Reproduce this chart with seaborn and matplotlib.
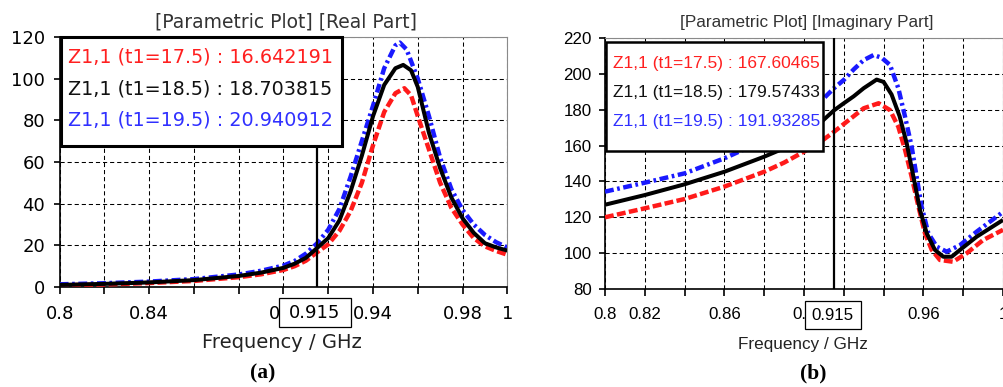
import matplotlib
matplotlib.use("Agg")
import matplotlib.pyplot as plt
import pandas as pd
import seaborn as sns
from matplotlib.patches import Rectangle

# ---------------- data ----------------
marker_freq = 0.915
param_labels = ["Z1,1 (t1=17.5)", "Z1,1 (t1=18.5)", "Z1,1 (t1=19.5)"]
series_colors = ["#ff1a1a", "#000000", "#1a1aff"]
legend_text_colors = ["#ff2020", "#111111", "#3030ff"]

# Real part of Z1,1 (ohm) versus frequency (GHz)
real_freq_t175 = [0.80, 0.82, 0.84, 0.86, 0.88, 0.89, 0.90, 0.905, 0.91, 0.915, 0.92, 0.925,
                  0.93, 0.935, 0.94, 0.945, 0.95, 0.954, 0.957, 0.96, 0.965, 0.97, 0.975,
                  0.98, 0.985, 0.99, 0.995, 1.0]
real_z_t175 = [0.8, 1.2, 1.9, 2.9, 4.7, 6.1, 8.2, 10.0, 12.6, 16.642191, 20.5, 27.0,
               36.5, 50.0, 68.0, 84.0, 93.0, 95.4, 92.0, 82.0, 66.0, 50.0, 38.0,
               30.0, 23.5, 19.5, 17.3, 15.5]

real_freq_t185 = [0.80, 0.82, 0.84, 0.86, 0.88, 0.89, 0.90, 0.905, 0.91, 0.915, 0.92, 0.925,
                  0.93, 0.935, 0.94, 0.945, 0.95, 0.9535, 0.957, 0.96, 0.965, 0.97, 0.975,
                  0.98, 0.985, 0.99, 0.995, 1.0]
real_z_t185 = [1.0, 1.5, 2.2, 3.3, 5.3, 6.9, 9.2, 11.2, 14.0, 18.703815, 23.5, 32.0,
               46.0, 63.0, 82.0, 97.0, 105.0, 106.6, 104.0, 96.0, 74.0, 57.0, 43.0,
               33.0, 26.0, 21.0, 19.0, 17.5]

real_freq_t195 = [0.80, 0.82, 0.84, 0.86, 0.88, 0.89, 0.90, 0.905, 0.91, 0.915, 0.92, 0.925,
                  0.93, 0.935, 0.94, 0.945, 0.95, 0.952, 0.955, 0.96, 0.965, 0.97, 0.975,
                  0.98, 0.985, 0.99, 0.995, 1.0]
real_z_t195 = [1.3, 1.8, 2.6, 3.8, 6.0, 7.8, 10.3, 12.5, 16.0, 20.940912, 27.5, 37.5,
               53.0, 70.0, 87.0, 105.0, 116.0, 117.3, 114.0, 100.0, 82.0, 62.0, 47.0,
               37.0, 30.0, 25.0, 21.5, 19.0]

# Imaginary part of Z1,1 (ohm) versus frequency (GHz)
imag_freq_t175 = [0.80, 0.82, 0.84, 0.86, 0.88, 0.89, 0.90, 0.91, 0.915, 0.92, 0.93, 0.9375,
                  0.9432, 0.9474, 0.9508, 0.9541, 0.9575, 0.9608, 0.9642, 0.9683, 0.9749,
                  0.9817, 0.99, 1.0]
imag_z_t175 = [120.0, 125.0, 130.2, 137.1, 145.4, 150.5, 156.6, 163.5, 167.60465, 172.0, 180.8, 183.6,
               179.8, 170.5, 157.5, 142.6, 126.0, 111.0, 101.8, 96.2, 95.2,
               99.9, 107.3, 113.0]

imag_freq_t185 = [0.80, 0.82, 0.84, 0.86, 0.88, 0.89, 0.90, 0.91, 0.915, 0.92, 0.925, 0.93,
                  0.9365, 0.94, 0.944, 0.948, 0.9516, 0.955, 0.9583, 0.9617, 0.9658, 0.970,
                  0.9742, 0.9784, 0.9868, 1.0]
imag_z_t185 = [127.0, 132.4, 138.4, 145.4, 153.8, 158.5, 164.0, 174.5, 179.57433, 183.6, 187.5, 192.0,
               196.8, 195.5, 188.5, 176.5, 161.3, 142.6, 124.0, 111.0, 101.8, 98.0,
               98.0, 101.8, 109.2, 118.5]

imag_freq_t195 = [0.80, 0.82, 0.84, 0.86, 0.88, 0.89, 0.90, 0.91, 0.915, 0.92, 0.925, 0.93,
                  0.935, 0.939, 0.9432, 0.9474, 0.9508, 0.9541, 0.9566, 0.9591, 0.9625,
                  0.9667, 0.9717, 0.9784, 0.9868, 1.0]
imag_z_t195 = [134.3, 139.3, 144.5, 152.9, 163.0, 169.0, 176.0, 186.4, 191.93285, 196.6, 202.5, 207.7,
               210.5, 209.0, 205.0, 192.0, 176.0, 159.4, 142.6, 126.0, 111.0,
               103.6, 100.8, 104.5, 112.0, 123.0]

real_ticks = [0.80, 0.82, 0.84, 0.86, 0.88, 0.90, 0.92, 0.94, 0.96, 0.98, 1.00]
real_tick_labels = ["0.8", "", "0.84", "", "", "0.9", "", "0.94", "", "0.98", "1"]
imag_tick_labels = ["0.8", "0.82", "", "0.86", "", "0.9", "", "", "0.96", "", "1"]

# ---------------- style ----------------
sns.set_theme(style="white")
plt.rcParams["font.family"] = ["DejaVu Sans"]
plt.rcParams["lines.solid_capstyle"] = "butt"

LEFT_FONT = ["DejaVu Sans"]
RIGHT_FONT = ["Liberation Sans"]

W, H = 1004, 387
fig = plt.figure(figsize=(W / 100, H / 100), dpi=100)
fig.patch.set_facecolor("white")


def fx(x):
    return x / W


def fy(y):
    return 1 - y / H


def axes_box(left, top, right, bottom):
    return [fx(left), fy(bottom), fx(right) - fx(left), fy(top) - fy(bottom)]


ax1 = fig.add_axes(axes_box(59.7, 37, 507.3, 287))
ax2 = fig.add_axes(axes_box(605, 38, 1003, 289))

line_styles = [(0, (2.0, 0.75)), "-", (0, (2.0, 0.8, 0.6, 0.8))]
line_widths = [3.2, 2.9, 3.2]
draw_order = [0, 2, 1]


def draw_curves(ax, freqs, values):
    for i in draw_order:
        df = pd.DataFrame({"freq": freqs[i], "z": values[i]})
        sns.lineplot(data=df, x="freq", y="z", ax=ax, color=series_colors[i],
                     linestyle=line_styles[i], linewidth=line_widths[i],
                     estimator=None, sort=True, zorder=3 + (i == 1))


def style_axes(ax, ylim, yticks, tick_labels, font, size, ypad):
    ax.set_xlim(0.8, 1.0)
    ax.set_ylim(*ylim)
    ax.set_xticks(real_ticks, tick_labels)
    ax.set_yticks(yticks)
    ax.set_xlabel("")
    ax.set_ylabel("")
    ax.set_axisbelow(True)
    ax.grid(True, color="black", linestyle=(0, (4, 2.8)), linewidth=0.75)
    for side in ("left", "bottom"):
        ax.spines[side].set_color("black")
        ax.spines[side].set_linewidth(1.2)
    for side in ("top", "right"):
        ax.spines[side].set_color("#8a8a8a")
        ax.spines[side].set_linewidth(0.8)
    ax.tick_params(axis="x", direction="out", length=5, width=1.2, color="black",
                   pad=8, labelsize=size, labelcolor="black")
    ax.tick_params(axis="y", direction="out", length=4.5, width=1.2, color="black",
                   pad=ypad, labelsize=size, labelcolor="black")
    ax.tick_params(bottom=True, left=True)
    for lab in ax.get_xticklabels() + ax.get_yticklabels():
        lab.set_fontfamily(font)


# ---- (a) real part ----
draw_curves(ax1, [real_freq_t175, real_freq_t185, real_freq_t195],
            [real_z_t175, real_z_t185, real_z_t195])
style_axes(ax1, (0, 120), list(range(0, 121, 20)), real_tick_labels,
           LEFT_FONT, 13, 6)
ax1.axvline(marker_freq, color="black", linewidth=1.6, zorder=5)

# ---- (b) imaginary part ----
draw_curves(ax2, [imag_freq_t175, imag_freq_t185, imag_freq_t195],
            [imag_z_t175, imag_z_t185, imag_z_t195])
style_axes(ax2, (80, 220), list(range(80, 221, 20)), imag_tick_labels,
           RIGHT_FONT, 12.2, 5)
ax2.axvline(marker_freq, color="black", linewidth=1.6, zorder=5)

# marker readout boxes
readouts = [
    (ax1, (61, 37, 342, 146), 2.2, LEFT_FONT, 13.8, 68.3, [57.3, 89.3, 120.0],
     ["16.642191", "18.703815", "20.940912"]),
    (ax2, (606, 42, 823, 151), 1.8, RIGHT_FONT, 12.5, 612.7, [63.3, 92.7, 121.7],
     ["167.60465", "179.57433", "191.93285"]),
]
for ax, (l, t, r, b), lw, font, size, tx, ys, vals in readouts:
    fig.add_artist(Rectangle((fx(l), fy(b)), fx(r) - fx(l), fy(t) - fy(b),
                             transform=fig.transFigure, facecolor="white",
                             edgecolor="black", linewidth=lw, zorder=6))
    for k in range(3):
        fig.text(fx(tx), fy(ys[k]), f"{param_labels[k]} : {vals[k]}",
                 color=legend_text_colors[k], fontsize=size, family=font,
                 ha="left", va="center", zorder=7)

# marker frequency boxes on the x axes
for (l, t, r, b), font, size in [((279, 297.7, 351, 327.3), LEFT_FONT, 13),
                                 ((805, 300.7, 860.7, 329.3), RIGHT_FONT, 12.2)]:
    fig.add_artist(Rectangle((fx(l), fy(b)), fx(r) - fx(l), fy(t) - fy(b),
                             transform=fig.transFigure, facecolor="white",
                             edgecolor="black", linewidth=0.9, zorder=6))
    fig.text(fx((l + r) / 2), fy((t + b) / 2 + 0.5), f"{marker_freq:g}", fontsize=size,
             family=font, ha="center", va="center", color="black", zorder=7)

# titles, axis labels and panel captions
fig.text(fx(285.6), fy(21.7), "[Parametric Plot] [Real Part]", fontsize=13.5,
         family=LEFT_FONT, ha="center", va="center", color="#333333")
fig.text(fx(807), fy(22), "[Parametric Plot] [Imaginary Part]", fontsize=12.3,
         family=RIGHT_FONT, ha="center", va="center", color="#333333")
fig.text(fx(282), fy(343), "Frequency / GHz", fontsize=14, family=LEFT_FONT,
         ha="center", va="center", color="#222222")
fig.text(fx(803), fy(345), "Frequency / GHz", fontsize=12.3, family=RIGHT_FONT,
         ha="center", va="center", color="#222222")
fig.text(fx(263), fy(373), "(a)", fontsize=15.5, family="Liberation Serif",
         weight="bold", ha="center", va="center", color="black")
fig.text(fx(813), fy(373), "(b)", fontsize=15.5, family="Liberation Serif",
         weight="bold", ha="center", va="center", color="black")

fig.savefig("out.png", dpi=100, facecolor="white")
